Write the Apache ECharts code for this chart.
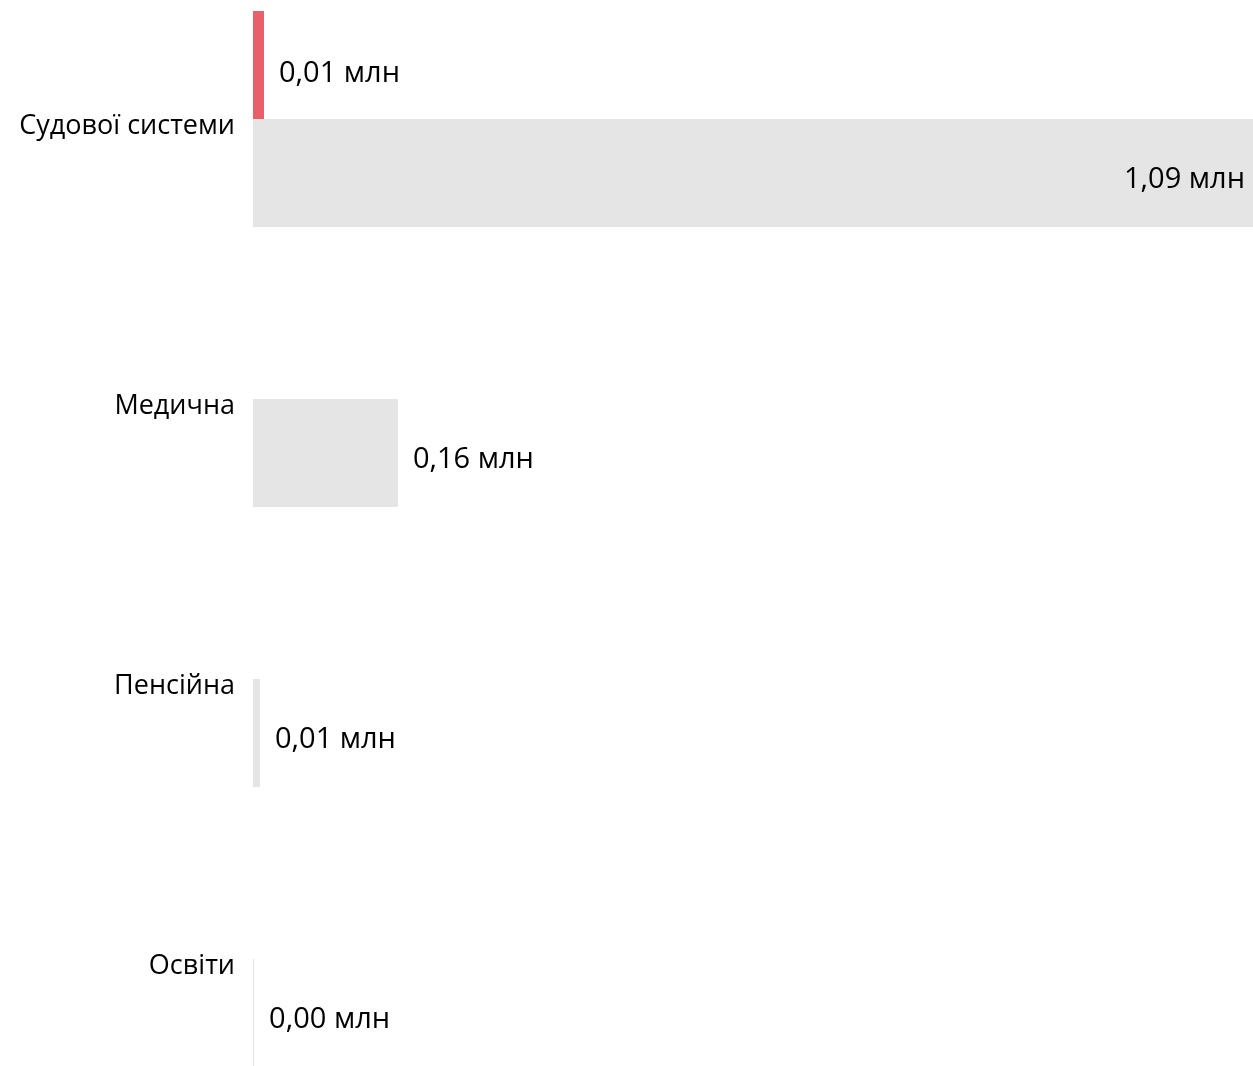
<!DOCTYPE html>
<html><head><meta charset="utf-8">
<style>html,body{margin:0;padding:0;background:#fff}#c{width:1253px;height:1066px}</style>
<script src="https://cdn.jsdelivr.net/npm/echarts@6/dist/echarts.min.js"></script>
</head><body><div id="c"></div>
<script>
const categories = ['Судової системи', 'Медична', 'Пенсійна', 'Освіти'];
const redValues = [0.012, null, null, null];
const greyValues = [1.09, 0.158, 0.0076, 0.0012];

const FONT = '"Open Sans", "Noto Sans", sans-serif';
const fmt = p => p.value.toFixed(2).replace('.', ',') + ' млн';
const maxV = Math.max(...greyValues);

const chart = echarts.init(document.getElementById('c'), null, {renderer: 'canvas'});
chart.setOption({
  animation: false,
  grid: {left: 253, right: 0, top: -21, height: 1120, outerBoundsMode: 'none', containLabel: false},
  xAxis: {type: 'value', min: 0, max: maxV, show: false},
  yAxis: {
    type: 'category', data: categories, inverse: true,
    axisLine: {show: false}, axisTick: {show: false},
    axisLabel: {
      color: '#000', fontSize: 27, fontFamily: FONT, margin: 18,
      formatter: v => '{a|' + v + '}',
      rich: {a: {fontSize: 27, fontFamily: FONT, color: '#000', padding: [14, 0, 0, 0]}}
    }
  },
  series: [
    {
      type: 'bar', data: redValues, barWidth: 108, barGap: '0%',
      itemStyle: {color: '#e9606b'},
      label: {show: true, position: 'right', distance: 15, offset: [0, 9], color: '#000', fontSize: 29, fontFamily: FONT, formatter: fmt}
    },
    {
      type: 'bar', barWidth: 108,
      data: greyValues.map(v => v >= maxV * 0.9
        ? {value: v, label: {position: 'insideRight', distance: 8}}
        : v),
      itemStyle: {color: '#e5e5e5'},
      label: {show: true, position: 'right', distance: 15, offset: [0, 7], color: '#000', fontSize: 29, fontFamily: FONT, formatter: fmt}
    }
  ]
});
</script></body></html>
